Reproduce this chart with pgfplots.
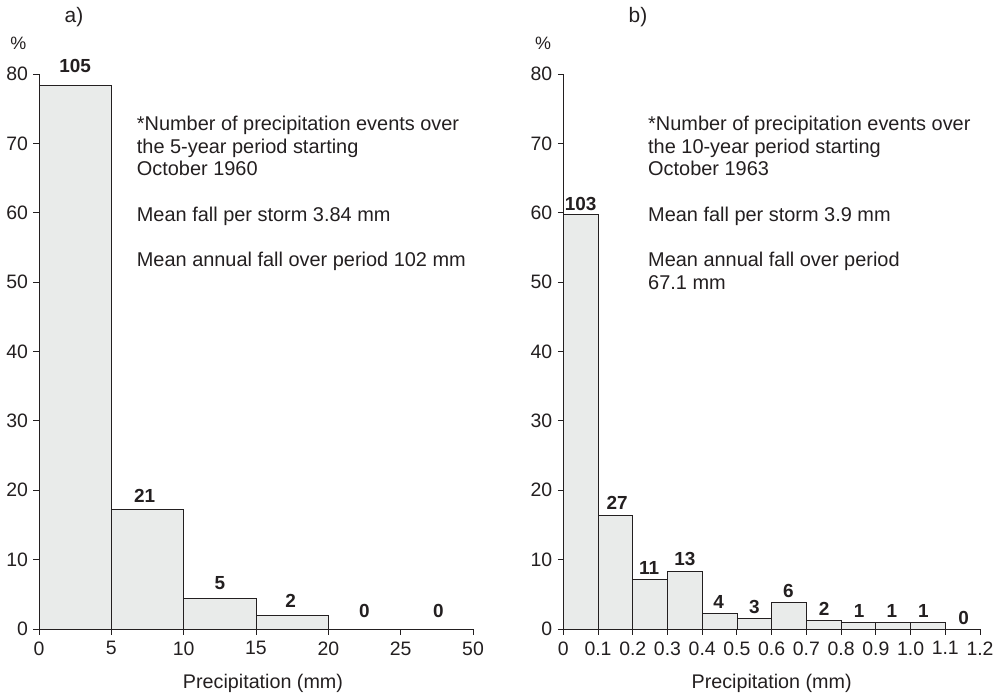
\documentclass[border=0pt]{standalone}
\usepackage{pgfplots}
\pgfplotsset{compat=1.18}
\usepackage{fontspec}
\setmainfont{Liberation Sans}
\definecolor{barfill}{RGB}{233,235,234}
\definecolor{ink}{RGB}{35,31,32}

\tikzset{cnt/.style={font=\bfseries\fontsize{19}{19}\selectfont, text=ink, anchor=base}}
\pgfplotsset{
  histo/.style={
    scale only axis, height=555bp,
    ymin=0, ymax=80, ytick={0,10,...,80},
    axis x line*=bottom, axis y line*=left,
    axis line style={ink, line width=0.9pt},
    every tick/.style={ink, line width=0.9pt},
    tick align=outside, major tick length=5.5bp,
    ticklabel style={font=\fontsize{19.5}{19.5}\selectfont, text=ink},
    xticklabel style={yshift=-3.5bp},
    yticklabel style={xshift=-2bp},
    /pgf/number format/assume math mode=true,
    xlabel style={font=\fontsize{19.8}{20}\selectfont, text=ink,
      at={(axis description cs:0.5,0)}, anchor=base, yshift=-59.5bp},
    clip=false,
  },
}

\begin{document}
\begin{tikzpicture}
\path[use as bounding box] (0,0) rectangle (994bp,696bp);

% a) 5-year record, mm
\begin{axis}[histo, at={(39bp,67bp)}, width=434bp,
  xmin=0, xmax=30, xtick={0,5,...,30},
  xticklabels={0,5,10,15,20,25,50},
  xlabel={Precipitation (mm)}, xlabel style={xshift=7bp}]
\addplot[ybar interval, fill=barfill, draw=ink, line width=0.8pt]
  coordinates {(0,78.4)(5,17.2)(10,4.4)(15,2.0)(20,0)};
\node[cnt] at (axis cs:2.5,80.2) {105};
\node[cnt] at (axis cs:7.3,18.3) {21};
\node[cnt] at (axis cs:12.5,5.7) {5};
\node[cnt] at (axis cs:17.4,3.1) {2};
\node[cnt] at (axis cs:22.5,1.6) {0};
\node[cnt] at (axis cs:27.6,1.6) {0};
\end{axis}

% b) 10-year record, mm
\begin{axis}[histo, at={(563.3bp,67bp)}, width=416.7bp,
  xmin=0, xmax=1.2, xtick={0,0.1,...,1.2},
  xticklabels={0,0.1,0.2,0.3,0.4,0.5,0.6,0.7,0.8,0.9,1.0,1.1,1.2},
  xlabel={Precipitation (mm)}]
\addplot[ybar interval, fill=barfill, draw=ink, line width=0.8pt]
  coordinates {(0,59.7)(0.1,16.4)(0.2,7.1)(0.3,8.3)(0.4,2.3)(0.5,1.5)
               (0.6,3.8)(0.7,1.25)(0.8,0.97)(0.9,0.97)(1.0,0.97)(1.1,0)};
\node[cnt] at (axis cs:0.05,60.3) {103};
\node[cnt] at (axis cs:0.155,17.2) {27};
\node[cnt] at (axis cs:0.247,7.9) {11};
\node[cnt] at (axis cs:0.35,9.1) {13};
\node[cnt] at (axis cs:0.447,2.9) {4};
\node[cnt] at (axis cs:0.55,2.26) {3};
\node[cnt] at (axis cs:0.648,4.5) {6};
\node[cnt] at (axis cs:0.751,1.9) {2};
\node[cnt] at (axis cs:0.852,1.63) {1};
\node[cnt] at (axis cs:0.946,1.63) {1};
\node[cnt] at (axis cs:1.037,1.63) {1};
\node[cnt] at (axis cs:1.153,0.58) {0};
\end{axis}

% panel letters, % units and notes (base of a multi-line node = last line)
\begin{scope}[every node/.style={text=ink, inner sep=0pt}]
\node[font=\fontsize{21}{21}\selectfont] at (74bp,679bp) {a)};
\node[font=\fontsize{21}{21}\selectfont] at (638bp,679bp) {b)};
\node[font=\fontsize{18}{18}\selectfont] at (18.3bp,652.7bp) {\%};
\node[font=\fontsize{18}{18}\selectfont] at (543bp,652.7bp) {\%};

\node[font=\fontsize{20}{22.7}\selectfont, align=left, anchor=base west]
  at (136.7bp,520.1bp) {*Number of precipitation events over\\the 5-year period starting\\October 1960};
\node[font=\fontsize{20}{22.7}\selectfont, anchor=base west]
  at (136.7bp,474.5bp) {Mean fall per storm 3.84 mm};
\node[font=\fontsize{20}{22.7}\selectfont, anchor=base west]
  at (136.7bp,429.5bp) {Mean annual fall over period 102 mm};

\node[font=\fontsize{20}{22.7}\selectfont, align=left, anchor=base west]
  at (648bp,520.1bp) {*Number of precipitation events over\\the 10-year period starting\\October 1963};
\node[font=\fontsize{20}{22.7}\selectfont, anchor=base west]
  at (648bp,474.5bp) {Mean fall per storm 3.9 mm};
\node[font=\fontsize{20}{22.7}\selectfont, align=left, anchor=base west]
  at (648bp,406.8bp) {Mean annual fall over period\\67.1 mm};
\end{scope}
\end{tikzpicture}
\end{document}
